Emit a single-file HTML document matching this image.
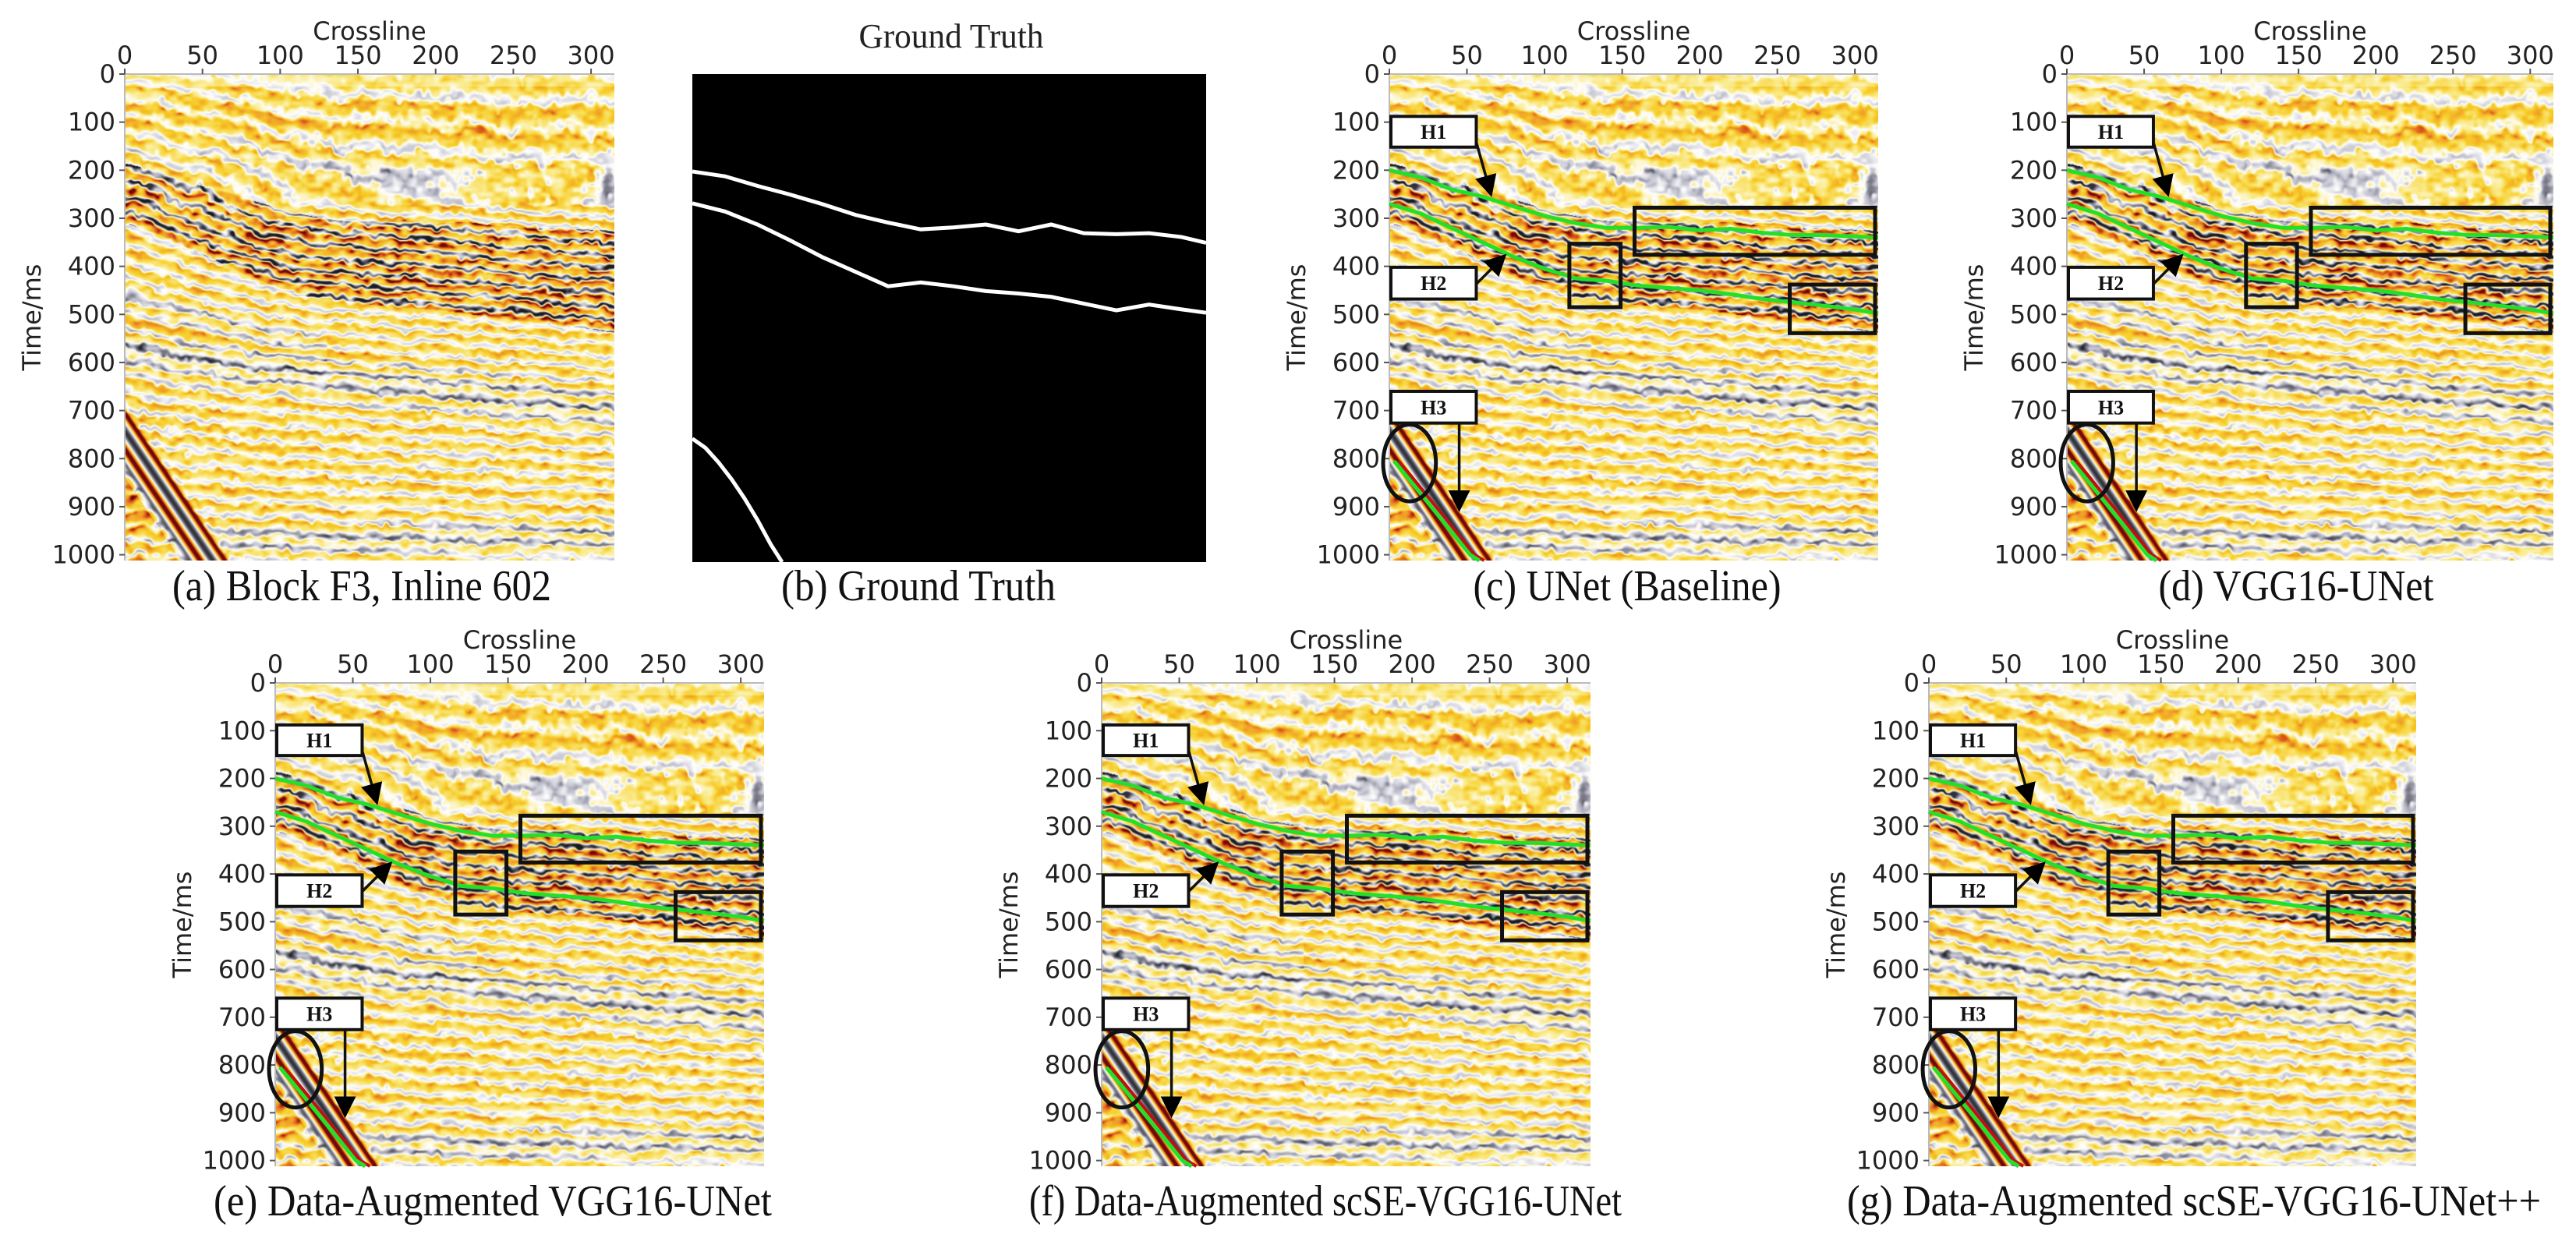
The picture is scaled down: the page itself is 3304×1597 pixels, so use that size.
<!DOCTYPE html>
<html><head><meta charset="utf-8">
<style>
html,body{margin:0;padding:0;background:#fff;}
#page{position:relative;width:3304px;height:1597px;overflow:hidden;background:#fff;}
canvas{position:absolute;}
#ov{position:absolute;left:0;top:0;}
</style></head>
<body>
<div id="page">
<svg id="ov" width="3304" height="1597">
<defs>
<marker id="ah" markerWidth="8" markerHeight="8" refX="6" refY="4" orient="auto" markerUnits="strokeWidth">
<path d="M0,0 L8,4 L0,8 Z" fill="#000"/>
</marker>
</defs>
</svg>
</div>
<script>
// ---- data ----
const crossTicks = [0,50,100,150,200,250,300];
const timeTicks = [0,100,200,300,400,500,600,700,800,900,1000];
const crossMax = 315;
const timeMax = 1012;
const horizonX = [0,20,40,60,80,100,120,140,160,180,200,220,240,260,280,300,315];
const h1Times = [200,215,240,255,275,295,310,320,320,318,325,322,330,335,335,338,340];
const h2Times = [270,290,320,350,380,405,425,430,440,445,450,458,468,475,482,490,498];
const gtH1Times = [202,212,232,250,270,292,308,322,318,312,326,312,330,332,330,338,350];
const gtH2Times = [268,285,312,345,380,410,440,432,440,450,455,462,476,490,478,488,495];
const h3X = [0,8,16,24,32,40,48,55];
const h3Times = [756,775,805,840,880,925,975,1012];
const predH3X = [3,12,22,32,42,52,58];
const predH3Times = [805,840,880,920,960,1000,1012];
const boxLabels = ["H1","H2","H3"];
const labelBoxes = [[0,55,88,152],[0,55,402,468],[0,55,660,726]];
const arrows = [[55,130,65,245],[55,440,73,382],[45,726,45,900]];
const rects = [[158,313,278,376],[116,149,353,485],[258,313,438,539]];
const ellipse = [13,809,17,80];

const panels = [
 {id:"a",l:160,t:95,w:628,h:624,cap:"(a) Block F3, Inline 602",cx:464,cy:770,cw:486,kind:"seis",ann:false},
 {id:"b",l:888,t:95,w:659,h:626,cap:"(b) Ground Truth",cx:1178,cy:770,cw:352,kind:"gt",ann:false},
 {id:"c",l:1782,t:95,w:627,h:624,cap:"(c) UNet (Baseline)",cx:2087,cy:770,cw:395,kind:"seis",ann:true},
 {id:"d",l:2651,t:95,w:624,h:624,cap:"(d) VGG16-UNet",cx:2945,cy:770,cw:353,kind:"seis",ann:true},
 {id:"e",l:353,t:876,w:627,h:620,cap:"(e)  Data-Augmented VGG16-UNet",cx:632,cy:1559,cw:716,kind:"seis",ann:true},
 {id:"f",l:1413,t:876,w:627,h:620,cap:"(f)  Data-Augmented scSE-VGG16-UNet",cx:1700,cy:1559,cw:760,kind:"seis",ann:true},
 {id:"g",l:2474,t:876,w:625,h:620,cap:"(g)  Data-Augmented scSE-VGG16-UNet++",cx:2814,cy:1559,cw:890,kind:"seis",ann:true}
];

// ---- helpers ----
function interp(xs,ys,x){
 if(x<=xs[0])return ys[0];
 for(let i=1;i<xs.length;i++){ if(x<=xs[i]){const f=(x-xs[i-1])/(xs[i]-xs[i-1]);return ys[i-1]+f*(ys[i]-ys[i-1]);} }
 return ys[ys.length-1];
}
function hash(i,j){let n=Math.imul(i,374761393)+Math.imul(j,668265263);n=Math.imul(n^(n>>>13),1274126177);return ((n^(n>>>16))>>>0)/4294967295;}
function vnoise(x,y){const i=Math.floor(x),j=Math.floor(y);const fx=x-i,fy=y-j;const sx=fx*fx*(3-2*fx),sy=fy*fy*(3-2*fy);
 const a=hash(i,j),b=hash(i+1,j),c=hash(i,j+1),d=hash(i+1,j+1);return a+(b-a)*sx+(c-a)*sy+(a-b-c+d)*sx*sy;}
const stops=[[-1,[25,25,30]],[-0.6,[115,115,128]],[-0.3,[195,195,208]],[0,[255,255,255]],[0.2,[250,235,140]],[0.42,[247,205,40]],[0.64,[240,155,40]],[0.84,[215,75,25]],[1,[110,10,10]]];
function cmap(a){ if(a<=-1)return stops[0][1]; if(a>=1)return stops[stops.length-1][1];
 for(let i=1;i<stops.length;i++){ if(a<=stops[i][0]){const f=(a-stops[i-1][0])/(stops[i][0]-stops[i-1][0]);const c0=stops[i-1][1],c1=stops[i][1];return [c0[0]+f*(c1[0]-c0[0]),c0[1]+f*(c1[1]-c0[1]),c0[2]+f*(c1[2]-c0[2])];} } }
function bump(d,wd){return Math.exp(-(d*d)/(wd*wd));}

// ---- seismic texture ----
const TW=627,TH=624;
const tex=document.createElement('canvas');tex.width=TW;tex.height=TH;
(function(){
 const ctx=tex.getContext('2d');const img=ctx.createImageData(TW,TH);const D=img.data;
 for(let px=0;px<TW;px++){
  const x=px/TW*crossMax;
  const H1=interp(horizonX,h1Times,x),H2=interp(horizonX,h2Times,x);
  const h1=H1-200,h2=H2-270,d3=110*Math.pow(x/315,0.8),d4=40*x/315;
  for(let py=0;py<TH;py++){
   const t=py/TH*timeMax;
   let Dd;
   if(t<200)Dd=h1*(0.35+0.65*t/200);
   else if(t<270)Dd=h1+(h2-h1)*(t-200)/70;
   else if(t<650)Dd=h2+(d3-h2)*(t-270)/380;
   else Dd=d3+(d4-d3)*(t-650)/362;
   const u=t-Dd+14*vnoise(x/10,t/40)+6*vnoise(x/3,t/20);
   let ph=2*Math.PI*u/34+2.0*(vnoise(x/4,t/12)-0.5);
   let s=Math.sin(ph)+0.3*Math.sin(2*ph+1);
   let amp=0.6,bias=0.12,neg=0.5;
   // grey bands
   const gb=bump(t-(570+0.4*x),42)+0.8*bump(t-(975-0.05*x),30)+0.6*bump(t-(160+0.25*x),30)*(x>120?1:0.3)+0.7*bump(t-(470+0.8*x),30)*(x<130?1:0);
   bias-=0.28*gb; neg+=0.45*gb;
   // orange band
   const ob=bump(t-(520+0.5*x),30)*(x<170?1:0.3)+0.6*bump(t-(80+0.1*x),30);
   bias+=0.22*ob;
   if(t>H1-15&&t<H2+40){amp=1.05;bias=0.14;neg=1.0;}
   if(t<25){amp=0.35;bias=0.08;}
   let patch=0.15+1.05*vnoise(x/5,t/10);
   // flank
   if(t>640){
    const w=x-(t-720)*0.21;
    if(w<10&&w>-25){
     const k=Math.min(1,(10-w)/6)*Math.min(1,(w+25)/6);
     const s2=Math.sin(2*Math.PI*w/16+0.3);
     s=s*(1-k)+s2*k; amp=amp*(1-k)+1.05*k; bias=bias*(1-k)+0.05*k; neg=neg*(1-k)+0.9*k; patch=patch*(1-k)+1*k;
    } else if(w<=-25){ bias+=0.3; }
   }
   if(s<0)s*=neg;
   let a=amp*s*patch+bias;
   const c=cmap(a);const o=(py*TW+px)*4;
   D[o]=c[0];D[o+1]=c[1];D[o+2]=c[2];D[o+3]=255;
  }
 }
 ctx.putImageData(img,0,0);
})();

const page=document.getElementById('page');
const svg=document.getElementById('ov');
const NS="http://www.w3.org/2000/svg";
function mk(tag,attrs,parent){const e=document.createElementNS(NS,tag);for(const k in attrs)e.setAttribute(k,attrs[k]);(parent||svg).appendChild(e);return e;}

panels.forEach(p=>{
 const X=v=>p.l+v/crossMax*p.w, Y=v=>p.t+v/timeMax*p.h;
 const g=mk('g',{});
 
 
 if(p.kind==="seis"){
  const cv=document.createElement('canvas');
  cv.width=p.w;cv.height=p.h;cv.style.left=p.l+'px';cv.style.top=p.t+'px';
  
  
  cv.getContext('2d').drawImage(tex,0,0,p.w,p.h);
  page.insertBefore(cv,svg);
  mk('line',{x1:p.l,y1:p.t,x2:p.l+p.w,y2:p.t,stroke:'#bbb','stroke-width':2},g);
  mk('line',{x1:p.l,y1:p.t,x2:p.l,y2:p.t+p.h,stroke:'#bbb','stroke-width':2},g);
  const title=mk('text',{x:p.l+p.w/2,y:p.t-44,'text-anchor':'middle','font-family':'DejaVu Sans, Liberation Sans, sans-serif','font-size':32,fill:'#222'},g);
  title.textContent='Crossline';
  
  
  crossTicks.forEach(v=>{
   mk('line',{x1:X(v),y1:p.t,x2:X(v),y2:p.t-7,stroke:'#555','stroke-width':2},g);
   const tx=mk('text',{x:X(v),y:p.t-13,'text-anchor':'middle','font-family':'DejaVu Sans, Liberation Sans, sans-serif','font-size':32,fill:'#222'},g);
   tx.textContent=v;
   
   
  });
  timeTicks.forEach(v=>{
   mk('line',{x1:p.l,y1:Y(v),x2:p.l-7,y2:Y(v),stroke:'#555','stroke-width':2},g);
   const ty=mk('text',{x:p.l-12,y:Y(v)+11,'text-anchor':'end','font-family':'DejaVu Sans, Liberation Sans, sans-serif','font-size':32,fill:'#222'},g);
   ty.textContent=v;
   
   
  });
  const yt=mk('text',{x:0,y:0,transform:`translate(${p.l-108},${p.t+p.h*0.5}) rotate(-90)`,'text-anchor':'middle','font-family':'DejaVu Sans, Liberation Sans, sans-serif','font-size':32,fill:'#222'},g);
  yt.textContent='Time/ms';
  
  
 } else {
  const r=mk('rect',{x:p.l,y:p.t,width:p.w,height:p.h,fill:'#000'},g);
  
  
  const gt=mk('text',{x:1220,y:61,'text-anchor':'middle','font-family':'Liberation Serif, serif','font-size':44,fill:'#222',textLength:237,lengthAdjust:'spacingAndGlyphs'},g);
  gt.textContent='Ground Truth';
  
  
  [[horizonX,gtH1Times],[horizonX,gtH2Times],[h3X,h3Times]].forEach((s,i)=>{
   const pts=s[0].map((v,k)=>X(v)+','+Y(s[1][k])).join(' ');
   const pl=mk('polyline',{points:pts,fill:'none',stroke:'#fff','stroke-width':5},g);
   
   
  });
 }
 if(p.ann){
  [[horizonX,h1Times],[horizonX,h2Times],[predH3X,predH3Times]].forEach((s,i)=>{
   const pts=s[0].map((v,k)=>X(v)+','+Y(s[1][k])).join(' ');
   if(i===2){mk('polyline',{points:s[0].map((v,k)=>(X(v)+6)+','+Y(s[1][k])).join(' '),fill:'none',stroke:'#c01010','stroke-width':4},g);}
   const pl=mk('polyline',{points:pts,fill:'none',stroke:'#22e02a','stroke-width':5},g);
   
   
  });
  rects.forEach(r=>{
   const re=mk('rect',{x:X(r[0]),y:Y(r[2]),width:X(r[1])-X(r[0]),height:Y(r[3])-Y(r[2]),fill:'none',stroke:'#111','stroke-width':5},g);
   
   
  });
  const el=mk('ellipse',{cx:X(ellipse[0]),cy:Y(ellipse[1]),rx:ellipse[2]/crossMax*p.w,ry:ellipse[3]/timeMax*p.h,fill:'none',stroke:'#111','stroke-width':5},g);
  
  
  arrows.forEach(a=>{
   const ar=mk('line',{x1:X(a[0]),y1:Y(a[1]),x2:X(a[2]),y2:Y(a[3]),stroke:'#111','stroke-width':3.5,'marker-end':'url(#ah)'},g);
   
   
  });
  labelBoxes.forEach((b,i)=>{
   const bx=mk('rect',{x:X(b[0])+2,y:Y(b[2]),width:X(b[1])-X(b[0]),height:Y(b[3])-Y(b[2]),fill:'#fff',stroke:'#111','stroke-width':4},g);
   
   
   const tx=mk('text',{x:(X(b[0])+X(b[1]))/2+2,y:(Y(b[2])+Y(b[3]))/2+9,'text-anchor':'middle','font-family':'Liberation Serif, serif','font-weight':'bold','font-size':26,fill:'#111'},g);
   tx.textContent=boxLabels[i];
   
   
  });
 }
 const cap=mk('text',{x:p.cx,y:p.cy,'text-anchor':'middle','font-family':'Liberation Serif, serif','font-size':56,fill:'#111',textLength:p.cw,lengthAdjust:'spacingAndGlyphs','xml:space':'preserve'},g);
 cap.textContent=p.cap;
 
 
});
</script>
</body></html>
